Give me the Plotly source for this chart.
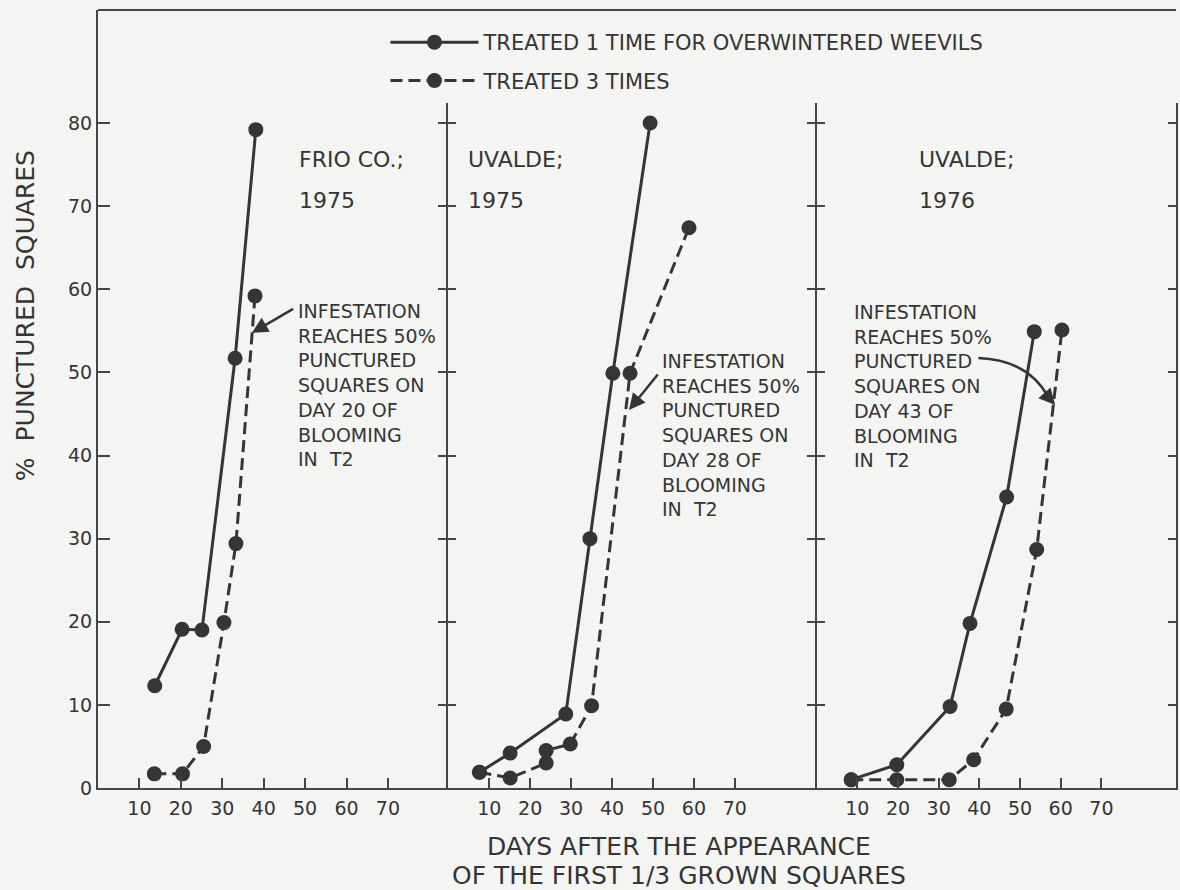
import plotly.graph_objects as go

# ---------------- data ----------------
days_tick = [10, 20, 30, 40, 50, 60, 70]
pct_tick = [0, 10, 20, 30, 40, 50, 60, 70, 80]

# Panel 1: Frio Co. 1975
frio75_once_x = [13.7, 20.3, 25.1, 33.1, 38.1]
frio75_once_y = [12.3, 19.1, 19.0, 51.7, 79.2]
frio75_three_x = [13.6, 20.4, 25.5, 30.4, 33.3, 37.9]
frio75_three_y = [1.7, 1.7, 5.0, 19.9, 29.4, 59.2]

# Panel 2: Uvalde 1975
uv75_once_x = [7.6, 15.1, 28.7, 34.6, 40.2, 49.3]
uv75_once_y = [1.9, 4.2, 8.9, 30.0, 49.9, 80.0]
uv75_three_x = [7.6, 15.1, 23.9, 23.9, 29.8, 35.0, 44.4, 58.8]
uv75_three_y = [1.9, 1.2, 3.0, 4.5, 5.3, 9.9, 49.9, 67.4]

# Panel 3: Uvalde 1976
uv76_once_x = [8.5, 19.7, 32.8, 37.7, 46.7, 53.5]
uv76_once_y = [1.0, 2.8, 9.8, 19.8, 35.0, 54.9]
uv76_three_x = [8.5, 19.7, 32.6, 38.6, 46.6, 54.1, 60.3]
uv76_three_y = [1.0, 1.0, 1.0, 3.4, 9.5, 28.7, 55.1]

name_once = "TREATED 1 TIME FOR OVERWINTERED WEEVILS"
name_three = "TREATED 3 TIMES"

# ---------------- style ----------------
INK = "#353535"
AXC = "#454545"
BG = "#f4f4f2"
FONT = "DejaVu Sans"
MS = 15
LW = 3
DASH = "12px,6px"

fig = go.Figure()

def add_pair(xo, yo, xt, yt, xa, ya_once, ya_three, show):
    fig.add_trace(go.Scatter(
        x=xo, y=yo, xaxis=xa, yaxis=ya_once, mode="lines+markers",
        name=name_once, legendgroup="once", showlegend=show,
        line=dict(color=INK, width=LW),
        marker=dict(color=INK, size=MS)))
    fig.add_trace(go.Scatter(
        x=xt, y=yt, xaxis=xa, yaxis=ya_three, mode="lines+markers",
        name=name_three, legendgroup="three", showlegend=show,
        line=dict(color=INK, width=LW, dash=DASH),
        marker=dict(color=INK, size=MS)))

add_pair(frio75_once_x, frio75_once_y, frio75_three_x, frio75_three_y, "x", "y", "y", True)
add_pair(uv75_once_x, uv75_once_y, uv75_three_x, uv75_three_y, "x2", "y2", "y4", False)
add_pair(uv76_once_x, uv76_once_y, uv76_three_x, uv76_three_y, "x3", "y3", "y5", False)

# ---------------- axes ----------------
W, H = 1180, 890
ML, MR, MT, MB = 98, 2, 10, 102
PW, PH = W - ML - MR, H - MT - MB
ypx = 665 / 80.0           # px per % unit
y1max = PH / ypx
ysub_top_px = 103
ysub_max = (788 - ysub_top_px) / ypx
ysub_dom = (788 - ysub_top_px) / PH

d1 = (449 - ML) / PW
d2 = (818 - ML) / PW
xr1 = (449 - ML) / 4.15
xr2 = (818 - 449) / 4.10
xr3 = (ML + PW - 818) / 4.075

tickfont = dict(family=FONT, size=19, color=INK)

xcommon = dict(showline=True, linecolor=AXC, linewidth=2, ticks="inside",
               ticklen=10, tickwidth=2, tickcolor=AXC, tickvals=days_tick,
               showgrid=False, zeroline=False, tickfont=tickfont,
               ticklabelstandoff=2, fixedrange=True)

fig.update_layout(
    xaxis=dict(domain=[0, d1], range=[0, xr1], anchor="y", **xcommon),
    xaxis2=dict(domain=[d1, d2], range=[0, xr2], anchor="y2", **xcommon),
    xaxis3=dict(domain=[d2, 1], range=[0, xr3], anchor="y3", **xcommon),
    yaxis=dict(domain=[0, 1], range=[0, y1max], anchor="x", showline=True,
               linecolor=AXC, linewidth=2, ticks="inside", ticklen=12,
               tickwidth=2, tickcolor=AXC, tickvals=pct_tick, showgrid=False,
               zeroline=False, tickfont=tickfont, ticklabelstandoff=0),
)

ysub_common = dict(domain=[0, ysub_dom], range=[0, ysub_max], showline=True,
                   linecolor=AXC, linewidth=2, ticklen=8, tickwidth=2,
                   tickcolor=AXC, tickvals=pct_tick[1:], showgrid=False,
                   zeroline=False, showticklabels=False)
fig.update_layout(
    yaxis2=dict(anchor="x2", ticks="outside", **ysub_common),
    yaxis4=dict(anchor="x2", overlaying="y2", ticks="inside", **ysub_common),
    yaxis3=dict(anchor="x3", ticks="outside", **ysub_common),
    yaxis5=dict(anchor="x3", overlaying="y3", ticks="inside", mirror="ticks",
                **ysub_common),
)

# ---------------- texts ----------------
ann = []
def txt(x, y, t, xref, yref="y", size=19, xanchor="left", **kw):
    ann.append(dict(x=x, y=y, text=t, xref=xref, yref=yref, showarrow=False,
                    xanchor=xanchor, yanchor="middle",
                    font=dict(family=FONT, size=size, color=INK), align="left", **kw))

def pv(py):  # pixel row -> percent value
    return (788 - py) / ypx

def p1(px):
    return (px - 98) / 4.15

def p2(px):
    return (px - 449) / 4.10

def p3(px):
    return (px - 818) / 4.075

# panel titles
txt(p1(297), pv(159), "FRIO CO.;", "x", size=22)
txt(p1(297), pv(200), "1975", "x", size=22)
txt(p2(467), pv(159), "UVALDE;", "x2", yref="y2", size=22)
txt(p2(467), pv(200), "1975", "x2", yref="y2", size=22)
txt(p3(919), pv(159), "UVALDE;", "x3", yref="y3", size=22)
txt(p3(919), pv(200), "1976", "x3", yref="y3", size=22)

note1 = "INFESTATION<br>REACHES 50%<br>PUNCTURED<br>SQUARES ON<br>DAY 20 OF<br>BLOOMING<br>IN  T2"
note2 = "INFESTATION<br>REACHES 50%<br>PUNCTURED<br>SQUARES ON<br>DAY 28 OF<br>BLOOMING<br>IN  T2"
note3 = "INFESTATION<br>REACHES 50%<br>PUNCTURED<br>SQUARES ON<br>DAY 43 OF<br>BLOOMING<br>IN  T2"
txt(p1(296), pv(385), note1, "x")
txt(p2(661), pv(435), note2, "x2", yref="y2")
txt(p3(853), pv(386), note3, "x3", yref="y3")

def arrow(xref, yref, tip, tail, head=2):
    ann.append(dict(x=tip[0], y=tip[1], ax=tail[0], ay=tail[1], xref=xref, yref=yref,
                    axref=xref, ayref=yref, text="", showarrow=True,
                    arrowhead=head, arrowsize=1.3, arrowwidth=2.5, arrowcolor=INK))

arrow("x", "y", (p1(252), pv(333)), (p1(295), pv(308)))
arrow("x2", "y2", (p2(630), pv(410)), (p2(660), pv(373)))
# curved arrow in panel 3: curve drawn as a shape, head as an annotation
arrow("x3", "y3", (p3(1057), pv(405)), (p3(1049), pv(396)))
curve3 = "M {},{} Q {},{} {},{}".format(p3(980), pv(358), p3(1030), pv(360),
                                         p3(1050), pv(397))

# axis titles
ann.append(dict(x=(25 - ML) / PW, y=(788 - 316) / PH, xref="paper", yref="paper",
                text="%  PUNCTURED  SQUARES", textangle=-90, showarrow=False,
                xanchor="center", yanchor="middle",
                font=dict(family=FONT, size=25, color=INK)))
ann.append(dict(x=(680 - ML) / PW, y=(788 - 847) / PH, xref="paper", yref="paper",
                text="DAYS AFTER THE APPEARANCE", showarrow=False,
                xanchor="center", yanchor="middle",
                font=dict(family=FONT, size=25, color=INK)))
ann.append(dict(x=(680 - ML) / PW, y=(788 - 875) / PH, xref="paper", yref="paper",
                text="OF THE FIRST 1/3 GROWN SQUARES", showarrow=False,
                xanchor="center", yanchor="middle",
                font=dict(family=FONT, size=25, color=INK)))

fig.update_layout(
    annotations=ann,
    shapes=[dict(type="line", xref="paper", yref="paper", x0=0, x1=1, y0=1, y1=1,
                 line=dict(color=AXC, width=2)),
            dict(type="path", xref="x3", yref="y3", path=curve3,
                 line=dict(color=INK, width=2.5))],
    width=W, height=H,
    margin=dict(l=ML, r=MR, t=MT, b=MB, pad=0),
    paper_bgcolor=BG, plot_bgcolor=BG,
    font=dict(family=FONT, color=INK),
    showlegend=True,
    legend=dict(x=(386 - ML) / PW, y=(788 - 22) / PH, xanchor="left", yanchor="top",
                bgcolor="rgba(0,0,0,0)", font=dict(family=FONT, size=21, color=INK),
                traceorder="grouped", tracegroupgap=8, itemwidth=88,
                itemclick=False, itemdoubleclick=False),
)

fig.write_html(
    "out.html",
    config={"displayModeBar": False},
    post_script=("document.body.style.margin='0';"
                 "document.body.style.background='" + BG + "';"
                 "document.documentElement.style.overflow='hidden';"),
)
